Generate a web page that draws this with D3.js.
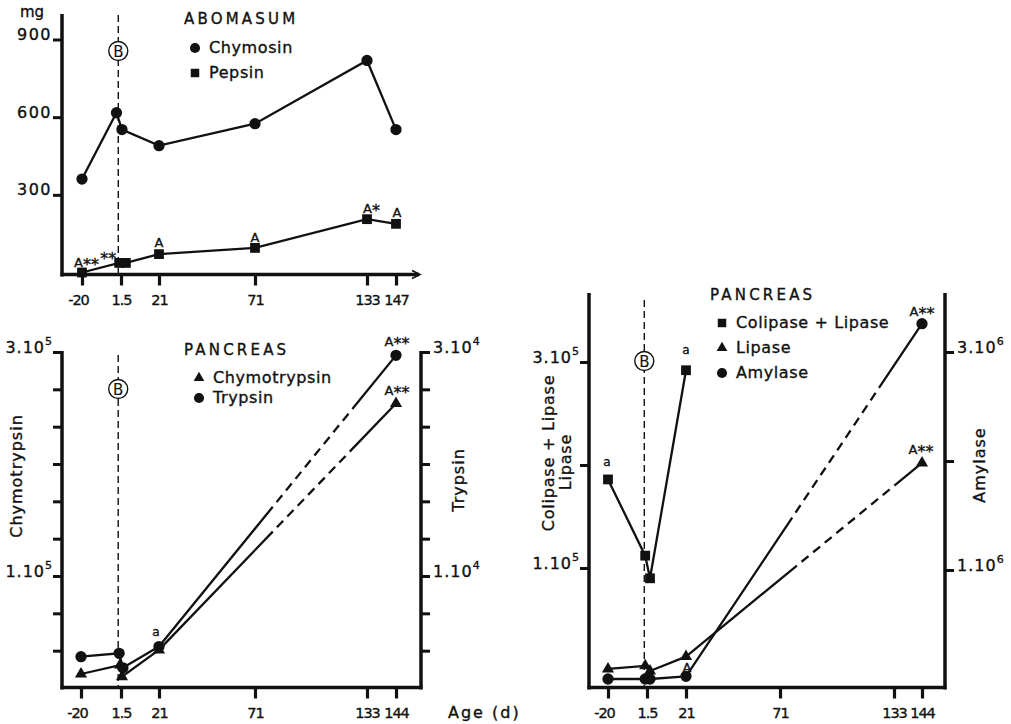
<!DOCTYPE html>
<html><head><meta charset="utf-8">
<script src="https://cdn.jsdelivr.net/npm/d3@7"></script>
<style>
body{margin:0;background:#fff}
svg{display:block}
text{font-family:"DejaVu Sans",sans-serif;fill:#111;stroke:#111;stroke-width:0.35px}
</style>
</head><body>
<svg id="c" width="1011" height="724"></svg>
<script>
// ---------------- DATA ----------------
const abomasumTicksX = [-20, 1.5, 21, 71, 133, 147];
const pancreasTicksX = [-20, 1.5, 21, 71, 133, 144];
const abomasumTicksY = [300, 600, 900];

const chymosinDays = [-20, -1, 2, 21, 71, 133, 147];
const chymosinMg   = [361, 617, 552, 490, 575, 819, 552];
const pepsinDays   = [-20, 0.5, 4, 21, 71, 133, 147];
const pepsinMg     = [0, 37, 37, 71, 95, 206, 188];
const pepsinNotes  = ["A**", "**", "", "A", "A", "A*", "A"];

const chymotrypsinTicks = [33333, 66667, 100000, 133333, 166667, 200000, 233333, 266667, 300000];
const chymotrypsinLabeled = [100000, 300000];
const trypsinTicks = [3333, 6667, 10000, 13333, 16667, 20000, 23333, 26667, 30000];
const trypsinLabeled = [10000, 30000];
const trypsinDays  = [-20, 0.5, 2.5, 21, 144];
const trypsinVals  = [2800, 3100, 1800, 3700, 29700];
const trypsinNotes = ["", "", "", "a", "A**"];
const chymotrypsinDays  = [-20, 1, 2, 21, 144];
const chymotrypsinVals  = [12500, 20500, 10000, 34000, 254000];
const chymotrypsinNotes = ["", "", "", "", "A**"];

const lipaseTicks = [100000, 200000, 300000];
const lipaseLabeled = [100000, 300000];
const amylaseTicks = [1000000, 2000000, 3000000];
const amylaseLabeled = [1000000, 3000000];
const colipaseDays  = [-20, 0.5, 3, 21];
const colipaseVals  = [186000, 112000, 90000, 292000];
const colipaseNotes = ["a", "", "", "a"];
const lipaseDays  = [-20, 0.5, 3, 21, 144];
const lipaseVals  = [2000, 5000, 0, 14000, 202000];
const lipaseNotes = ["", "", "", "A", "A**"];
const amylaseDays  = [-20, 0.5, 3, 21, 144];
const amylaseVals  = [0, 0, 0, 25000, 3260000];
const amylaseNotes = ["", "", "", "", "A**"];

// ---------------- DRAWING ----------------
const svg = d3.select("#c");
const INK = "#111";

function line(x1, y1, x2, y2, w) {
  return svg.append("line").attr("x1", x1).attr("y1", y1).attr("x2", x2).attr("y2", y2)
    .attr("stroke", INK).attr("stroke-width", w);
}

function addLabel(sel, lab, anchor, dx) {
  const t = sel.append("text").attr("x", dx).attr("y", 0).attr("text-anchor", anchor)
    .attr("font-size", 16).attr("letter-spacing", anchor === "end" && !lab.sup ? 1.5 : 1);
  t.append("tspan").text(lab.base);
  if (lab.sup) t.append("tspan").attr("font-size", 11).attr("dy", -8).attr("letter-spacing", 0).text(lab.sup);
}

function xAxis(x, ticks, y, labelY) {
  const g = svg.append("g").attr("transform", `translate(0,${y})`)
    .call(d3.axisBottom(x).tickValues(ticks).tickSize(11).tickFormat(d => String(d)));
  g.select(".domain").remove();
  g.selectAll(".tick line").attr("stroke-width", 3.2).attr("stroke", INK);
  g.selectAll(".tick text").attr("y", labelY - y).attr("dy", 0)
    .attr("dx", d => d < 0 ? -4 : 0).attr("font-size", 14.5).attr("letter-spacing", -1).attr("fill", INK);
}

function yAxis(side, xPos, y, ticks, labeled, exp) {
  const ax = side === "left" ? d3.axisLeft(y) : d3.axisRight(y);
  const g = svg.append("g").attr("transform", `translate(${xPos},0)`)
    .call(ax.tickValues(ticks).tickSize(9).tickFormat(""));
  g.select(".domain").remove();
  g.selectAll(".tick line").attr("stroke-width", 3).attr("stroke", INK);
  g.selectAll(".tick").filter(d => labeled.includes(d)).each(function (d) {
    const lab = exp ? { base: `${Math.round(d / Math.pow(10, exp))}.10`, sup: String(exp) } : { base: String(d) };
    addLabel(d3.select(this), lab, side === "left" ? "end" : "start", side === "left" ? -10 : 12);
  });
}

function vTitle(txt, x, y, ls) {
  svg.append("text").attr("transform", `translate(${x},${y}) rotate(-90)`)
    .attr("text-anchor", "middle").attr("font-size", 16).attr("letter-spacing", ls).text(txt);
}

function birth(x, y1, y2, cy) {
  line(x, y1, x, y2, 1.4).attr("stroke-dasharray", "7,4");
  svg.append("circle").attr("cx", x).attr("cy", cy).attr("r", 9.5)
    .attr("fill", "#fff").attr("stroke", INK).attr("stroke-width", 1.4);
  svg.append("text").attr("x", x).attr("y", cy + 5.5).attr("text-anchor", "middle")
    .attr("font-size", 15).style("stroke-width", "0.1px").text("B");
}

const SYM = { circle: [d3.symbolCircle, 100, 80], square: [d3.symbolSquare, 96, 72], triangle: [d3.symbolTriangle, 64, 50] };

function mixedDash(len, f1, f2, dash, gap) {
  const a = [len * f1, gap];
  let pos = len * f1 + gap;
  while (pos + dash + gap < len * f2) { a.push(dash, gap); pos += dash + gap; }
  a.push(len - pos + 2, 0);
  return a.join(",");
}

function series(x, y, days, vals, shape, opt) {
  const pts = days.map((d, i) => [x(d), y(vals[i])]);
  const split = opt && opt.split != null ? days.indexOf(opt.split) : pts.length - 1;
  const gen = d3.line();
  svg.append("path").attr("d", gen(pts.slice(0, split + 1))).attr("fill", "none")
    .attr("stroke", INK).attr("stroke-width", 2.3);
  if (split < pts.length - 1) {
    const p = svg.append("path").attr("d", gen(pts.slice(split))).attr("fill", "none")
      .attr("stroke", INK).attr("stroke-width", 2.3);
    const L = p.node().getTotalLength();
    p.attr("stroke-dasharray", mixedDash(L, opt.f1, opt.f2, 9, 6));
  }
  const s = SYM[shape];
  svg.append("g").selectAll("path").data(pts).join("path")
    .attr("transform", d => `translate(${d[0]},${d[1]})`)
    .attr("d", d3.symbol().type(s[0]).size(s[1])).attr("fill", INK);
  return pts;
}

function notes(pts, texts, offs) {
  texts.forEach((t, i) => {
    if (!t) return;
    const o = offs[i] || [0, -8, "middle"];
    const el = svg.append("text").attr("x", pts[i][0] + o[0]).attr("y", pts[i][1] + o[1])
      .attr("text-anchor", o[2]).attr("font-size", t === "a" ? 12 : 13);
    const runs = t.match(/\*+|[^*]+/g);
    runs.forEach(r => {
      const sp = el.append("tspan").text(r);
      if (r[0] === "*") sp.attr("font-size", 16).attr("baseline-shift", -3);
    });
  });
}

function legend(x, y0, title, items, titleX) {
  svg.append("text").attr("x", titleX).attr("y", y0).attr("font-size", 15)
    .attr("letter-spacing", 3.2).text(title);
  items.forEach(it => {
    const s = SYM[it.shape];
    svg.append("path").attr("transform", `translate(${x},${it.y})`)
      .attr("d", d3.symbol().type(s[0]).size(s[2])).attr("fill", INK);
    svg.append("text").attr("x", x + 14).attr("y", it.y + 5).attr("font-size", 16)
      .attr("letter-spacing", 0.6).text(it.label);
  });
}

// ===== Panel 1 : ABOMASUM =====
const x1 = d3.scaleLinear().domain(abomasumTicksX).range([82, 121, 159, 255, 367, 396]);
const y1 = d3.scaleLinear().domain([0, 900]).range([272.5, 39.5]);
line(62, 14, 62, 276.5, 3.5);
line(60.5, 274.5, 419, 274.5, 3.5);
svg.append("path").attr("d", "M412,270.5 L420,274.5 L412,278.5").attr("fill", "none")
  .attr("stroke", INK).attr("stroke-width", 1.6);
xAxis(x1, abomasumTicksX, 274.5, 305);
yAxis("left", 62, y1, abomasumTicksY, abomasumTicksY, 0);
svg.append("text").attr("x", 20).attr("y", 17).attr("font-size", 15).text("mg");
birth(x1(0), 15, 274, 51);
series(x1, y1, chymosinDays, chymosinMg, "circle");
const pp = series(x1, y1, pepsinDays, pepsinMg, "square");
notes(pp, pepsinNotes, [[-8, -6, "start"], [-3, -2, "end"], null, [0, -7, "middle"], [0, -6, "middle"], [-4, -6, "start"], [1, -7, "middle"]]);
legend(195, 24, "ABOMASUM", [{ shape: "circle", y: 48, label: "Chymosin" }, { shape: "square", y: 73, label: "Pepsin" }], 184);

// ===== Panel 2 : PANCREAS (chymotrypsin / trypsin) =====
const x2 = d3.scaleLinear().domain(pancreasTicksX).range([81, 121, 159, 255, 367, 396]);
const y2L = d3.scaleLinear().domain([0, 300000]).range([688, 352]);
const y2R = d3.scaleLinear().domain([0, 30000]).range([688, 352]);
line(62, 351, 62, 689.5, 3.5);
line(421, 351, 421, 689.5, 3.5);
line(60.5, 687.5, 422.5, 687.5, 3.5);
xAxis(x2, pancreasTicksX, 687.5, 718);
yAxis("left", 62, y2L, chymotrypsinTicks, chymotrypsinLabeled, 5);
yAxis("right", 421, y2R, trypsinTicks, trypsinLabeled, 4);
vTitle("Chymotrypsin", 22, 476, 1);
vTitle("Trypsin", 464, 480, 1);
svg.append("text").attr("x", 448).attr("y", 718).attr("font-size", 16).attr("letter-spacing", 2).text("Age (d)");
birth(x2(0), 355, 687, 389);
const tp = series(x2, y2R, trypsinDays, trypsinVals, "circle", { split: 21, f1: 0.48, f2: 0.83 });
const cp = series(x2, y2L, chymotrypsinDays, chymotrypsinVals, "triangle", { split: 21, f1: 0.48, f2: 0.83 });
notes(tp, trypsinNotes, [null, null, null, [-3, -11, "middle"], [1, -9, "middle"]]);
notes(cp, chymotrypsinNotes, [null, null, null, null, [1, -9, "middle"]]);
legend(199, 355, "PANCREAS", [{ shape: "triangle", y: 378, label: "Chymotrypsin" }, { shape: "circle", y: 398, label: "Trypsin" }], 184);

// ===== Panel 3 : PANCREAS (colipase+lipase / lipase / amylase) =====
const x3 = d3.scaleLinear().domain(pancreasTicksX).range([608, 647, 686, 780, 894, 922]);
const y3L = d3.scaleLinear().domain([0, 300000]).range([671, 362]);
const y3R = d3.scaleLinear().domain([0, 3000000]).range([679, 352]);
line(589, 293, 589, 689.5, 3.5);
line(945, 293, 945, 689.5, 3.5);
line(587.5, 687.5, 946.5, 687.5, 3.5);
xAxis(x3, pancreasTicksX, 687.5, 718);
yAxis("left", 589, y3L, lipaseTicks, lipaseLabeled, 5);
yAxis("right", 945, y3R, amylaseTicks, amylaseLabeled, 6);
vTitle("Colipase + Lipase", 554, 453, 0.8);
vTitle("Lipase", 571, 462, 0.8);
vTitle("Amylase", 985, 465, 1);
birth(x3(0), 300, 687, 361);
const colp = series(x3, y3L, colipaseDays, colipaseVals, "square");
const lp = series(x3, y3L, lipaseDays, lipaseVals, "triangle", { split: 21, f1: 0.47, f2: 0.9 });
const ap = series(x3, y3R, amylaseDays, amylaseVals, "circle", { split: 21, f1: 0.45, f2: 0.83 });
notes(colp, colipaseNotes, [[-1, -13, "middle"], null, null, [0, -16, "middle"]]);
notes(lp, lipaseNotes, [null, null, null, [1, 15, "middle"], [-1, -9, "middle"]]);
notes(ap, amylaseNotes, [null, null, null, null, [0, -8, "middle"]]);
legend(722, 300, "PANCREAS", [
  { shape: "square", y: 323, label: "Colipase + Lipase" },
  { shape: "triangle", y: 348, label: "Lipase" },
  { shape: "circle", y: 373, label: "Amylase" }], 710);
</script>
</body></html>
